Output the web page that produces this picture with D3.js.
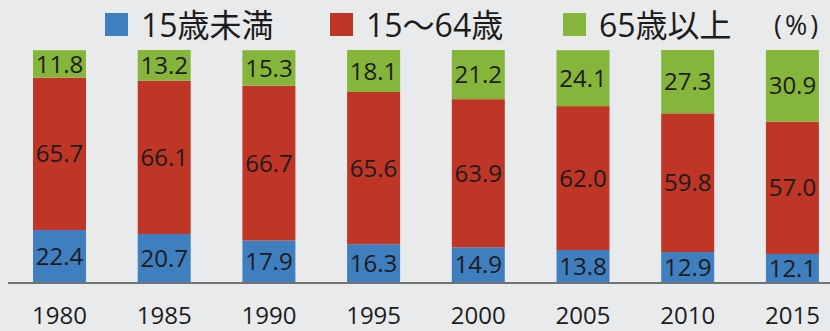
<!DOCTYPE html>
<html lang="ja"><head><meta charset="utf-8">
<script src="https://cdn.jsdelivr.net/npm/d3@7"></script>
<style>
html,body{margin:0;padding:0;background:#e8eaec;}
svg{display:block;}
</style></head>
<body>
<svg id="chart" width="830" height="331"></svg>
<script>
const years = ["1980","1985","1990","1995","2000","2005","2010","2015"];
const under15 = [22.4,20.7,17.9,16.3,14.9,13.8,12.9,12.1];
const age15to64 = [65.7,66.1,66.7,65.6,63.9,62.0,59.8,57.0];
const over65 = [11.8,13.2,15.3,18.1,21.2,24.1,27.3,30.9];
const seriesNames = ["15歳未満","15〜64歳","65歳以上"];
const colors = ["#3f7fc0","#bf3526","#85b53b"];
const unitLabel = "(%)";

const svg = d3.select("#chart");
svg.append("rect").attr("width",830).attr("height",331).attr("fill","#e8eaec");

const x = d3.scaleBand().domain(years).range([7.15, 844.75]).paddingInner(0.494).paddingOuter(0.247);
const y = d3.scaleLinear().domain([0,100]).range([282,50]);

const rows = years.map((yr,i)=>({year:yr, s0:under15[i], s1:age15to64[i], s2:over65[i]}));
const stack = d3.stack().keys(["s0","s1","s2"]);
const layers = stack(rows);

const font = "'Open Sans','Noto Sans',sans-serif";
const cjkFont = "'Open Sans','Noto Sans CJK JP',sans-serif";

const g = svg.append("g");
layers.forEach((layer,k)=>{
  const lg = g.append("g");
  lg.selectAll("rect").data(layer).enter().append("rect")
    .attr("x", d=>x(d.data.year))
    .attr("width", x.bandwidth())
    .attr("y", d=>y(d[1]))
    .attr("height", d=>y(d[0])-y(d[1]))
    .attr("fill", colors[k]);
  lg.selectAll("text").data(layer).enter().append("text")
    .attr("x", d=>x(d.data.year)+x.bandwidth()/2)
    .attr("y", d=>(y(d[0])+y(d[1]))/2)
    .attr("dy","0.36em")
    .attr("text-anchor","middle")
    .attr("font-family",font)
    .attr("font-size",24)
    .attr("fill","#1c1c1c")
    .text(d=>(d[1]-d[0]).toFixed(1));
});

// baseline axis
svg.append("line").attr("x1",8).attr("x2",830).attr("y1",283).attr("y2",283)
  .attr("stroke","#4a4a4a").attr("stroke-width",1.5);

const xAxis = d3.axisBottom(x).tickSize(0).tickPadding(0);
const ax = svg.append("g").attr("transform","translate(0,283)").call(xAxis);
ax.select(".domain").remove();
ax.selectAll("text").attr("font-family",font).attr("font-size",24).attr("fill","#1c1c1c")
  .attr("dy",null).attr("y",41);

// legend
const legendX = [105,330,563];
const legend = svg.append("g");
seriesNames.forEach((n,i)=>{
  legend.append("rect").attr("x",legendX[i]).attr("y",13).attr("width",23).attr("height",23).attr("fill",colors[i]);
  legend.append("text").attr("x",legendX[i]+36).attr("y",37)
    .attr("font-family",cjkFont).attr("font-size",32).attr("fill","#1c1c1c").text(n);
});
legend.append("text").attr("x",774).attr("y",35).attr("font-family",font).attr("font-size",27)
  .attr("letter-spacing",3).attr("fill","#1c1c1c").text(unitLabel);
</script>
</body></html>
